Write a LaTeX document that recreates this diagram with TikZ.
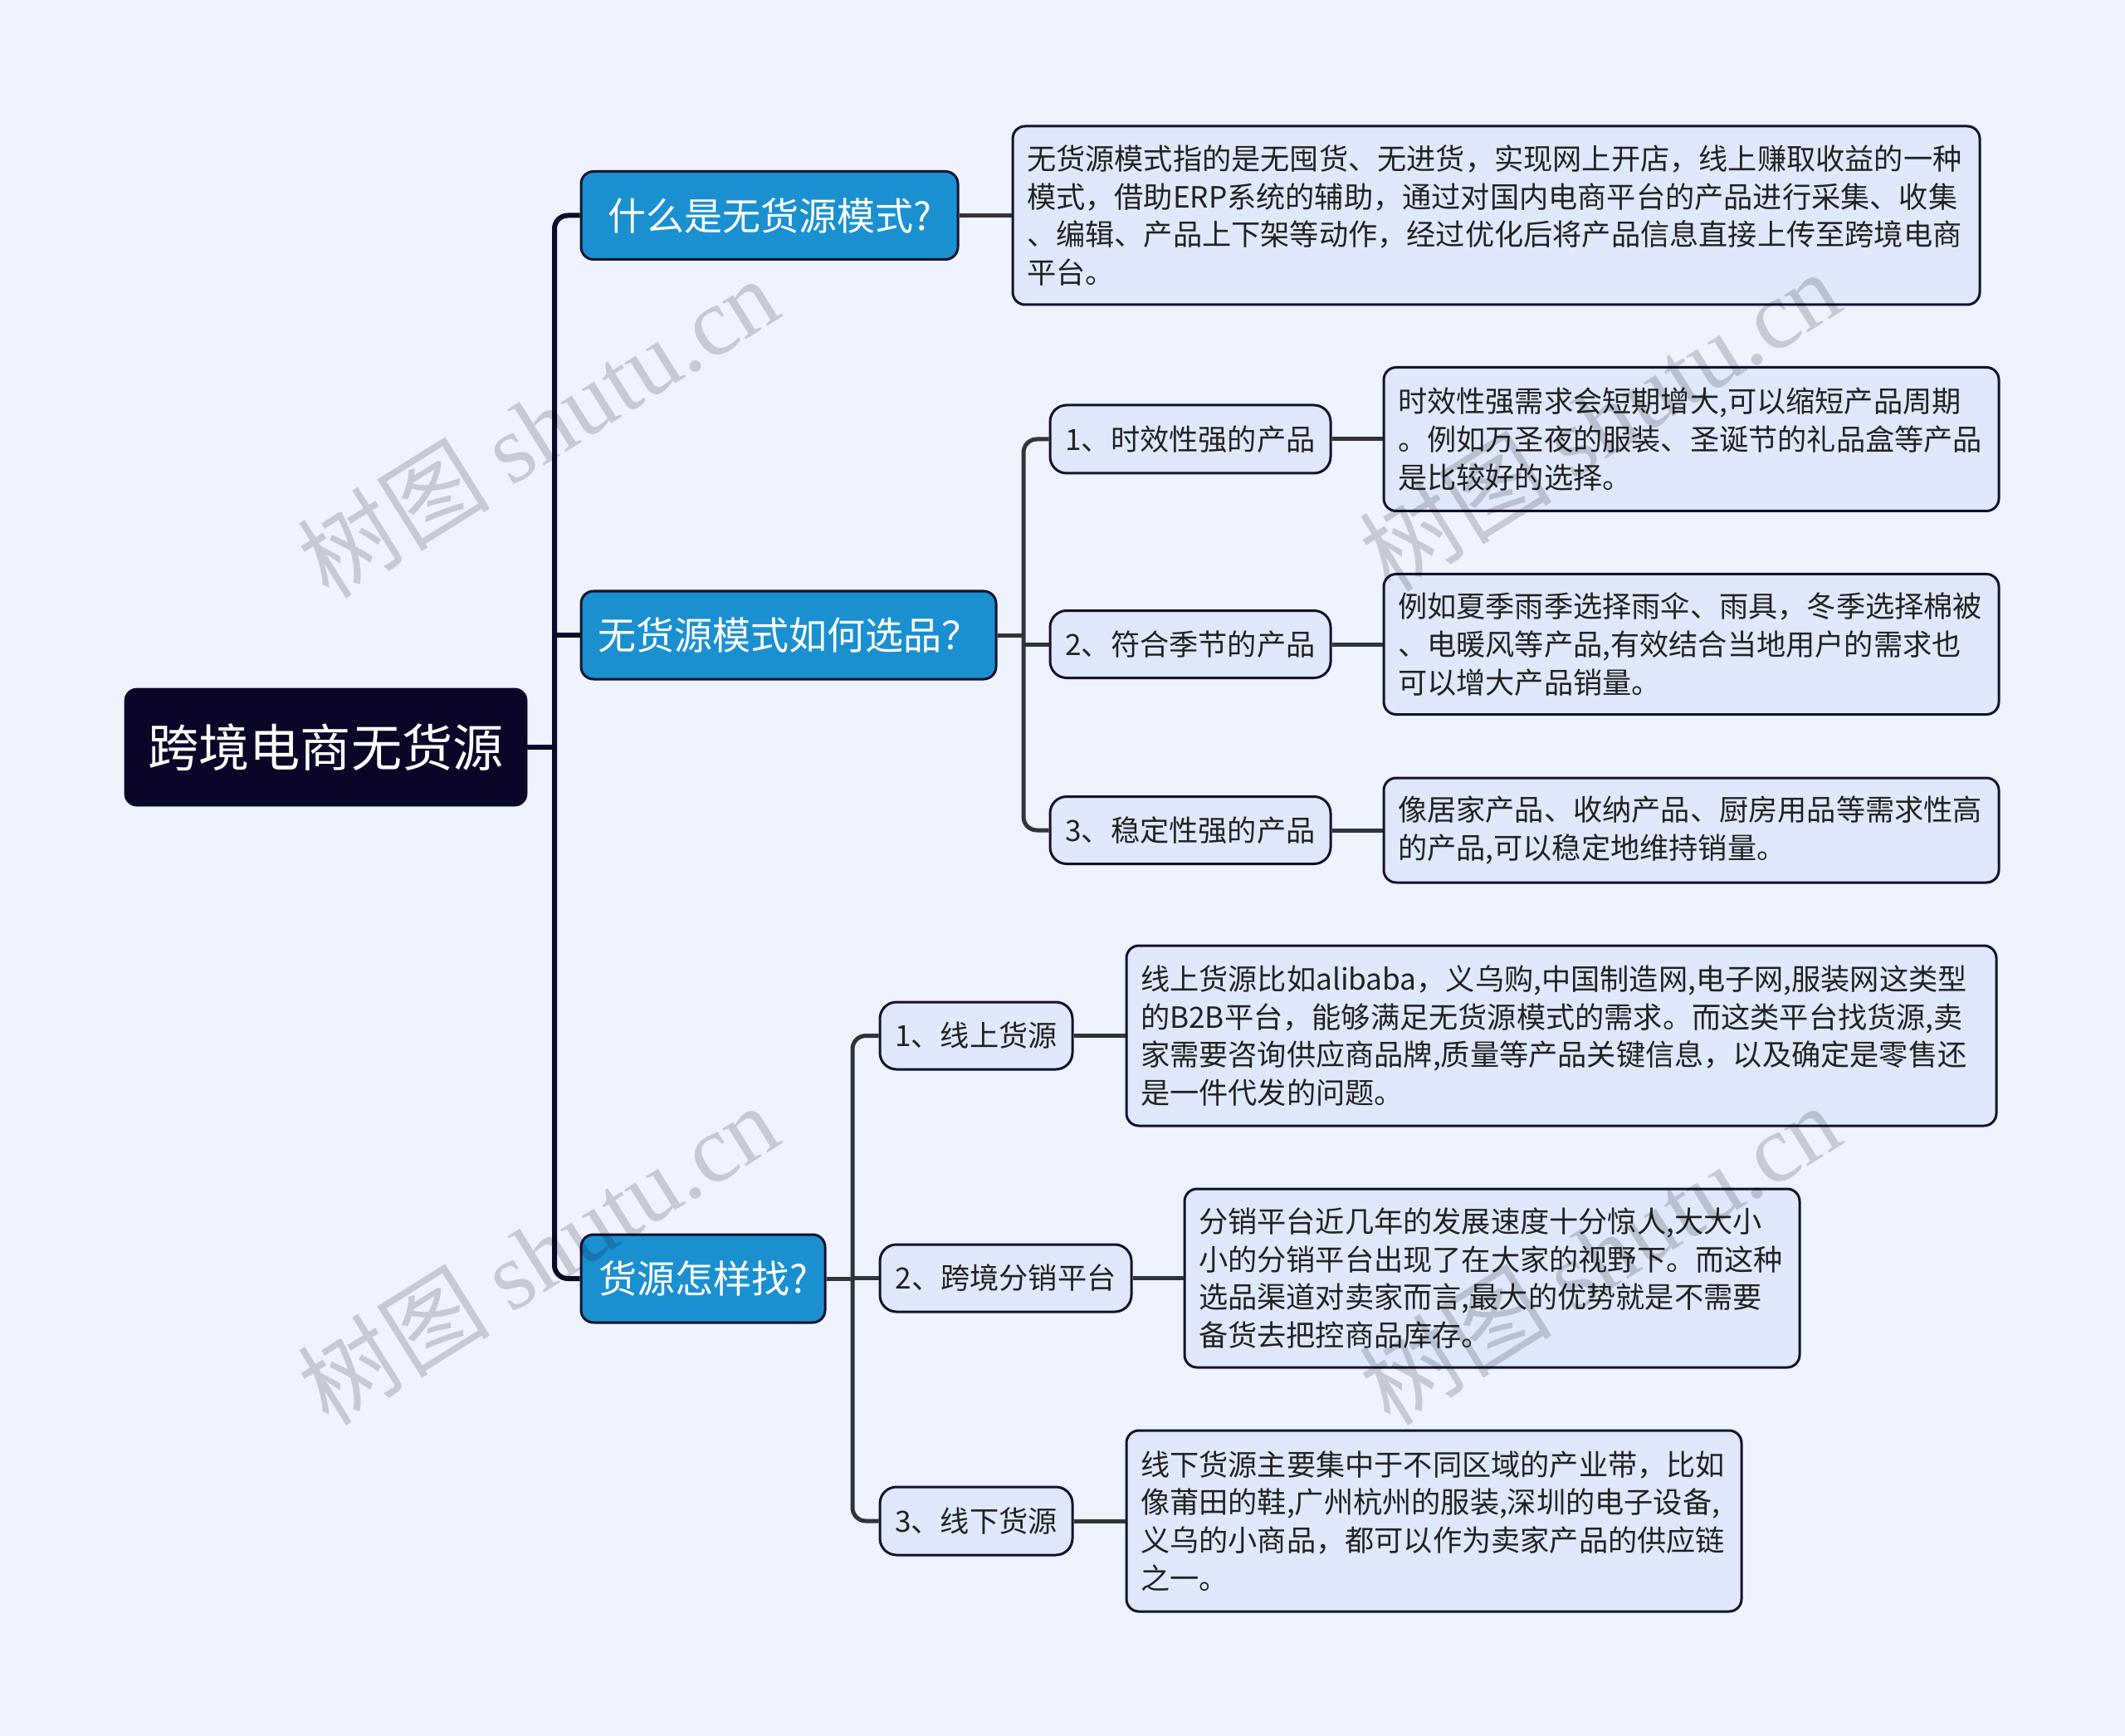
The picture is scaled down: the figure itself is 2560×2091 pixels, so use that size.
\documentclass[tikz,border=0pt]{standalone}
\usepackage{fontspec}
\setmainfont{Noto Sans CJK SC}
\newfontfamily\wmserif{Liberation Serif}
\newfontfamily\wmcjk{Noto Sans CJK SC}
\definecolor{bgcol}{HTML}{EEF3FE}
\definecolor{rootfill}{HTML}{0A0628}
\definecolor{lonefill}{HTML}{1A90D1}
\definecolor{descfill}{HTML}{DFE9FB}
\definecolor{bordercol}{HTML}{14122E}
\definecolor{trunkcol}{HTML}{0C0A2A}
\definecolor{branchcol}{HTML}{333338}
\definecolor{textcol}{HTML}{222222}
\begin{document}
\begin{tikzpicture}[x=0.5pt,y=-0.5pt,
  rootbox/.style={rectangle, rounded corners=7.5pt, fill=rootfill, draw=rootfill, text=white,
    font=\fontsize{30.6pt}{36pt}\selectfont, inner sep=0pt, minimum width=242.5pt, minimum height=71pt},
  lonebox/.style={rectangle, rounded corners=7.5pt, fill=lonefill, draw=bordercol, line width=1.5pt, text=white,
    font=\fontsize{23pt}{27pt}\selectfont, inner sep=0pt, minimum height=53pt},
  ltwobox/.style={rectangle, rounded corners=10pt, fill=descfill, draw=bordercol, line width=1.5pt, text=textcol,
    font=\fontsize{17.6pt}{22pt}\selectfont, inner sep=0pt, minimum height=40.5pt},
  descbox/.style={rectangle, rounded corners=7.5pt, fill=descfill, draw=bordercol, line width=1.5pt, text=textcol,
    font=\fontsize{17.6pt}{22.85pt}\selectfont, align=left, inner xsep=8.5pt, inner ysep=0pt, text width=#1},
  trunk/.style={draw=trunkcol, line width=3pt, rounded corners=8pt},
  branch/.style={draw=branchcol, line width=2.5pt, rounded corners=8pt},
  wm/.style={text=black, text opacity=0.17, font=\fontsize{58pt}{66pt}\selectfont, rotate=32, inner sep=0pt}
]
\useasboundingbox (0,0) rectangle (2560,2091);
\fill[bgcol] (0,0) rectangle (2560,2091);

% root
\node[rootbox] (root) at (392.5,900) {跨境电商无货源};

% level 1
\node[lonebox, minimum width=227pt] (n1) at (927,259.5) {什么是无货源模式?};
\node[lonebox, minimum width=250pt] (n2) at (950,765) {无货源模式如何选品？};
\node[lonebox, minimum width=147pt] (n3) at (847,1540) {货源怎样找?};

% level 2
\node[ltwobox, minimum width=169pt, minimum height=41pt] (l2a) at (1434,529) {1、时效性强的产品};
\node[ltwobox, minimum width=169pt] (l2b) at (1434,776) {2、符合季节的产品};
\node[ltwobox, minimum width=169pt] (l2c) at (1434,1000) {3、稳定性强的产品};
\node[ltwobox, minimum width=116pt] (l3a) at (1176,1247.5) {1、线上货源};
\node[ltwobox, minimum width=151.5pt] (l3b) at (1211.5,1539.5) {2、跨境分销平台};
\node[ltwobox, minimum width=116pt, minimum height=41pt] (l3c) at (1176,1832) {3、线下货源};

% descriptions
\node[descbox=565.5pt, minimum height=107.5pt] (d1) at (1802.5,259.5) {无货源模式指的是无囤货、无进货，实现网上开店，线上赚取收益的一种\\模式，借助ERP系统的辅助，通过对国内电商平台的产品进行采集、收集\\、编辑、产品上下架等动作，经过优化后将产品信息直接上传至跨境电商\\平台。};
\node[descbox=353.5pt, minimum height=86.5pt] (d2a) at (2037.5,529) {时效性强需求会短期增大,可以缩短产品周期\\。例如万圣夜的服装、圣诞节的礼品盒等产品\\是比较好的选择。};
\node[descbox=353.5pt, minimum height=84.5pt] (d2b) at (2037.5,776) {例如夏季雨季选择雨伞、雨具，冬季选择棉被\\、电暖风等产品,有效结合当地用户的需求也\\可以增大产品销量。};
\node[descbox=353.5pt, minimum height=63pt] (d2c) at (2037.5,1000) {像居家产品、收纳产品、厨房用品等需求性高\\的产品,可以稳定地维持销量。};
\node[descbox=507pt, minimum height=108.5pt] (d3a) at (1881,1247.5) {线上货源比如alibaba，义乌购,中国制造网,电子网,服装网这类型\\的B2B平台，能够满足无货源模式的需求。而这类平台找货源,卖\\家需要咨询供应商品牌,质量等产品关键信息，以及确定是零售还\\是一件代发的问题。};
\node[descbox=353.5pt, minimum height=107.5pt] (d3b) at (1797.5,1539.5) {分销平台近几年的发展速度十分惊人,大大小\\小的分销平台出现了在大家的视野下。而这种\\选品渠道对卖家而言,最大的优势就是不需要\\备货去把控商品库存。};
\node[descbox=353.5pt, minimum height=109pt] (d3c) at (1727.5,1832) {线下货源主要集中于不同区域的产业带，比如\\像莆田的鞋,广州杭州的服装,深圳的电子设备,\\义乌的小商品，都可以作为卖家产品的供应链\\之一。};

% trunk connectors
\coordinate (t0) at (668,900);
\draw[trunk] (root.east) -- (t0);
\draw[trunk] (n1.west) -| (t0);
\draw[trunk] (n3.west) -| (t0);
\draw[trunk] (n2.west) -- (n2.west -| t0);

% branch of n2
\coordinate (b2) at (1233,765);
\draw[branch] (n2.east) -- (b2);
\draw[branch] (l2a.west) -| (b2);
\draw[branch] (l2c.west) -| (b2);
\draw[branch] (l2b.west) -- (l2b.west -| b2);

% branch of n3
\coordinate (b3) at (1027,1540);
\draw[branch] (n3.east) -- (b3);
\draw[branch] (l3a.west) -| (b3);
\draw[branch] (l3c.west) -| (b3);
\draw[branch] (l3b.west) -- (l3b.west -| b3);

% to descriptions
\draw[branch] (n1.east) -- (d1.west);
\draw[branch] (l2a.east) -- (d2a.west);
\draw[branch] (l2b.east) -- (d2b.west);
\draw[branch] (l2c.east) -- (d2c.west);
\draw[branch] (l3a.east) -- (d3a.west);
\draw[branch] (l3b.east) -- (d3b.west);
\draw[branch] (l3c.east) -- (d3c.west);

% watermark
\node[wm] (wm1) at (648,514) {\wmcjk 树图 {\wmserif shutu.cn}};
\node[wm] (wm2) at (648,1510) {\wmcjk 树图 {\wmserif shutu.cn}};
\node[wm] (wm3) at (1927,506) {\wmcjk 树图 {\wmserif shutu.cn}};
\node[wm] (wm4) at (1927,1510) {\wmcjk 树图 {\wmserif shutu.cn}};
\end{tikzpicture}
\end{document}
